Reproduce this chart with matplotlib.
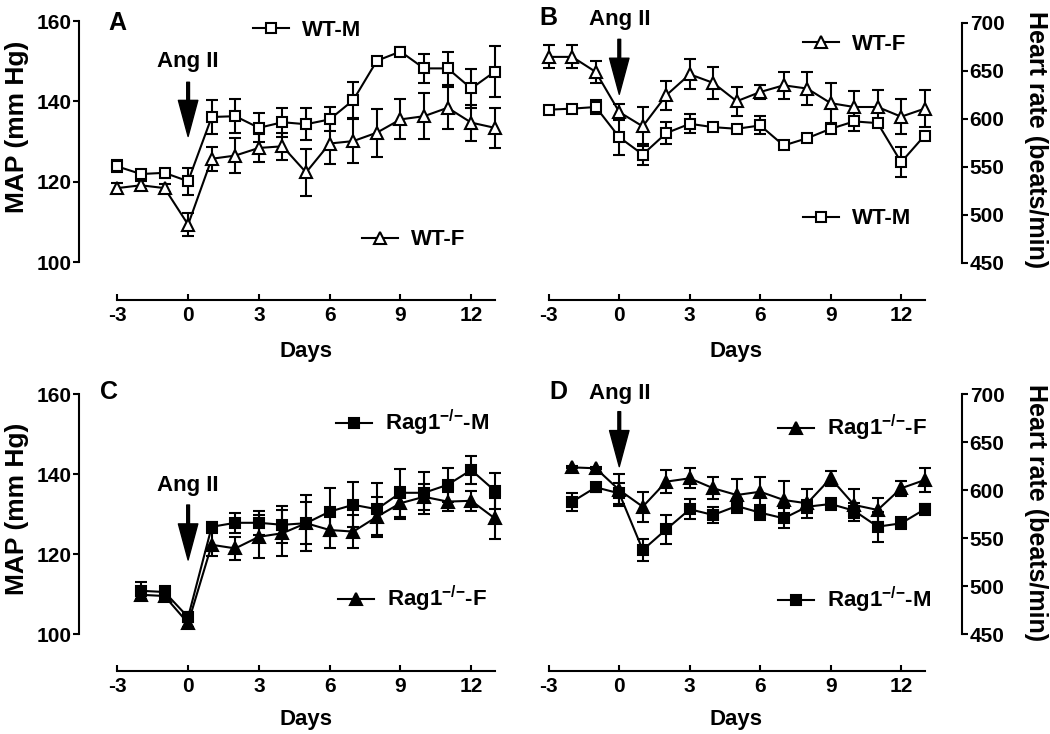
import matplotlib
matplotlib.use("Agg")
import matplotlib.pyplot as plt
from matplotlib.legend import Legend

plt.rcParams["font.family"] = "Liberation Sans"
plt.rcParams["font.weight"] = "bold"
plt.rcParams["axes.unicode_minus"] = False
plt.rcParams["mathtext.fontset"] = "custom"
plt.rcParams["mathtext.rm"] = "Liberation Sans:bold"
plt.rcParams["mathtext.bf"] = "Liberation Sans:bold"
plt.rcParams["mathtext.default"] = "rm"

# ---- data ----
days_wt = list(range(-3, 14))
days_rag = list(range(-2, 14))

# A: MAP, wild type
wt_m_map = [123.8, 121.9, 122.2, 120.1, 136.1, 136.3, 133.4, 134.8, 134.3, 135.5,
            140.3, 150.1, 152.4, 148.2, 148.2, 143.2, 147.4]
wt_m_map_err = [1.5, 1.0, 1.0, 3.3, 4.2, 4.2, 3.6, 3.6, 4.0, 3.0, 4.5, 1.0, 1.2,
                3.6, 4.2, 4.8, 6.4]
wt_f_map = [118.4, 119.1, 118.4, 109.3, 125.7, 126.5, 128.4, 128.8, 122.3, 129.5,
            130.1, 132.2, 135.5, 136.3, 138.4, 134.7, 133.4]
wt_f_map_err = [1.2, 1.0, 1.0, 2.9, 3.0, 4.4, 3.5, 3.3, 5.8, 5.0, 5.5, 6.0, 5.0,
                5.7, 5.2, 4.5, 4.9]

# B: heart rate, wild type
wt_f_hr = [664.7, 664.7, 649.0, 607.2, 592.3, 624.7, 646.6, 637.6, 618.5, 628.1,
           635.1, 631.7, 616.5, 612.5, 612.5, 602.4, 610.8]
wt_f_hr_err = [12, 12, 11, 8.7, 20, 15, 15.7, 16.7, 15, 7.7, 14, 17.4, 21, 16.4,
               17.4, 18.5, 19.2]
wt_m_hr = [609.7, 610.8, 612.5, 581.0, 563.0, 585.3, 595.0, 591.5, 589.8, 593.3,
           572.4, 580.0, 589.8, 597.5, 595.7, 555.0, 582.8]
wt_m_hr_err = [2, 2, 7.7, 19, 10.5, 11.5, 9.8, 3, 3, 9.4, 2, 3, 3, 10, 3, 15.7, 3]

# C: MAP, Rag1-/-
rag_m_map = [110.8, 110.5, 104.2, 126.8, 127.8, 127.8, 127.3, 127.7, 130.6, 132.3,
             131.2, 135.3, 135.3, 137.3, 141.0, 135.8]
rag_m_map_err = [2.2, 1.5, 1.2, 1.3, 2.5, 3.0, 4.6, 7.0, 6.0, 5.6, 6.5, 6.0, 5.3,
                 4.3, 3.5, 4.5]
rag_f_map = [109.8, 109.5, 102.7, 122.3, 121.4, 124.3, 125.2, 127.7, 126.0, 125.6,
             129.3, 132.7, 134.3, 133.1, 133.3, 128.9]
rag_f_map_err = [1.0, 1.0, 1.0, 2.9, 2.9, 5.4, 5.8, 5.2, 4.6, 4.2, 5.0, 4.0, 3.2,
                 2.3, 2.5, 5.2]

# D: heart rate, Rag1-/-
rag_f_hr = [623.6, 622.6, 600.0, 582.6, 608.7, 612.2, 601.8, 594.8, 598.2, 589.6,
            586.1, 612.2, 584.4, 579.2, 601.8, 610.4]
rag_f_hr_err = [1, 1, 16.7, 15.6, 12.2, 10.4, 11.5, 16.7, 15.6, 20, 15, 8, 16.3,
                12.2, 8, 12.2]
rag_m_hr = [587.8, 602.8, 596.5, 537.5, 559.0, 579.9, 574.0, 583.3, 576.4, 570.5,
            582.6, 585.4, 578.4, 561.8, 565.3, 579.9]
rag_m_hr_err = [9.4, 5, 11, 11, 15, 10.4, 8.7, 7, 8, 10.4, 7, 6, 8, 15.6, 6.25, 6]

day_ticks = [-3, 0, 3, 6, 9, 12]
map_ticks = [100, 120, 140, 160]
hr_ticks = [450, 500, 550, 600, 650, 700]

W, H = 1050, 734
fig = plt.figure(figsize=(W / 100, H / 100), dpi=100)


def make_axes(l, t, r, b):
    return fig.add_axes([l / W, 1 - b / H, (r - l) / W, (b - t) / H])


def style_axes(ax, side, drop):
    ax.spines["top"].set_visible(False)
    if side == "left":
        ax.spines["right"].set_visible(False)
        ax.tick_params(axis="y", direction="out", length=4, width=1.5, pad=1.5,
                       labelsize=15)
    else:
        ax.spines["left"].set_visible(False)
        ax.yaxis.tick_right()
        ax.tick_params(axis="y", direction="out", length=4.5, width=1.5, pad=1,
                       labelsize=15)
    ax.spines["bottom"].set_position(("outward", drop * 0.72))
    ax.spines["bottom"].set_bounds(-3, 13)
    for s in ax.spines.values():
        s.set_linewidth(1.5)
    ax.set_xticks(day_ticks)
    ax.tick_params(axis="x", direction="in", length=4.5, width=1.5, pad=4.5,
                   labelsize=15)
    ax.patch.set_visible(False)


def draw_series(ax, x, y, err, marker, filled):
    fc = "black" if filled else "white"
    ms = 7 if marker == "s" else 8.5
    line, caps, bars = ax.errorbar(x, y, yerr=err, color="black", lw=1.5,
                                   marker=marker, ms=ms, mfc=fc, mec="black",
                                   mew=1.5, capsize=4, capthick=1.5,
                                   elinewidth=1.5, clip_on=False)
    return line


def add_legend(ax, handle, label, x, y):
    leg = Legend(ax, [handle], [label], loc="center left",
                 bbox_to_anchor=(x / W, 1 - y / H), bbox_transform=fig.transFigure,
                 frameon=False, borderpad=0, borderaxespad=0, handlelength=1.6,
                 handletextpad=0.6, numpoints=1, prop={"size": 16, "weight": "bold"})
    ax.add_artist(leg)


def ang_arrow(ax, text_y, tail_y, tip_y):
    ax.text(0, text_y, "Ang II", ha="center", va="center", fontsize=16,
            fontweight="bold")
    ax.annotate("", xy=(0, tip_y), xytext=(0, tail_y),
                arrowprops=dict(facecolor="black", edgecolor="black", width=2,
                                headwidth=14, headlength=26, shrink=0))


# A
ax_a = make_axes(79, 21, 509, 262)
ax_a.set_xlim(-4.624, 13.6)
ax_a.set_ylim(100, 160)
ax_a.set_yticks(map_ticks)
style_axes(ax_a, "left", 38)
l_am = draw_series(ax_a, days_wt, wt_m_map, wt_m_map_err, "s", False)
l_af = draw_series(ax_a, days_wt, wt_f_map, wt_f_map_err, "^", False)
add_legend(ax_a, l_am, "WT-M", 253, 30)
add_legend(ax_a, l_af, "WT-F", 362, 240)
ang_arrow(ax_a, 150, 144.75, 131.25)

# B
ax_b = make_axes(530, 23, 962, 263)
ax_b.set_xlim(-3.8, 14.59)
ax_b.set_ylim(450, 700)
ax_b.set_yticks(hr_ticks)
style_axes(ax_b, "right", 37)
l_bf = draw_series(ax_b, days_wt, wt_f_hr, wt_f_hr_err, "^", False)
l_bm = draw_series(ax_b, days_wt, wt_m_hr, wt_m_hr_err, "s", False)
add_legend(ax_b, l_bf, "WT-F", 803, 44)
add_legend(ax_b, l_bm, "WT-M", 803, 219)
ang_arrow(ax_b, 704, 683, 625.7)

# C
ax_c = make_axes(79, 394, 509, 634)
ax_c.set_xlim(-4.624, 13.6)
ax_c.set_ylim(100, 160)
ax_c.set_yticks(map_ticks)
style_axes(ax_c, "left", 37)
l_cf = draw_series(ax_c, days_rag, rag_f_map, rag_f_map_err, "^", True)
l_cm = draw_series(ax_c, days_rag, rag_m_map, rag_m_map_err, "s", True)
add_legend(ax_c, l_cm, r"Rag1$^{{-}/{-}}$-M", 336, 423)
add_legend(ax_c, l_cf, r"Rag1$^{{-}/{-}}$-F", 338, 599)
ang_arrow(ax_c, 137.25, 132.25, 118.5)

# D
ax_d = make_axes(530, 394, 962, 634)
ax_d.set_xlim(-3.8, 14.59)
ax_d.set_ylim(450, 700)
ax_d.set_yticks(hr_ticks)
style_axes(ax_d, "right", 37)
l_df = draw_series(ax_d, days_rag, rag_f_hr, rag_f_hr_err, "^", True)
l_dm = draw_series(ax_d, days_rag, rag_m_hr, rag_m_hr_err, "s", True)
add_legend(ax_d, l_df, r"Rag1$^{{-}/{-}}$-F", 778, 428)
add_legend(ax_d, l_dm, r"Rag1$^{{-}/{-}}$-M", 778, 600)
ang_arrow(ax_d, 700, 681.6, 624.3)

# panel letters, axis titles
for letter, x, y in [("A", 117, 23), ("B", 548, 18), ("C", 109, 392), ("D", 558, 392)]:
    fig.text(x / W, 1 - y / H, letter, ha="center", va="center", fontsize=18,
             fontweight="bold")
for x, y in [(306, 352), (736, 352), (306, 719), (736, 719)]:
    fig.text(x / W, 1 - y / H, "Days", ha="center", va="center", fontsize=16,
             fontweight="bold")
for y in [127, 509]:
    fig.text(17 / W, 1 - y / H, "MAP (mm Hg)", ha="center", va="center",
             rotation=90, fontsize=19, fontweight="bold")
for y in [140, 513]:
    fig.text(1036 / W, 1 - y / H, "Heart rate (beats/min)", ha="center",
             va="center", rotation=270, fontsize=18, fontweight="bold")

fig.savefig("out.png", dpi=100)
